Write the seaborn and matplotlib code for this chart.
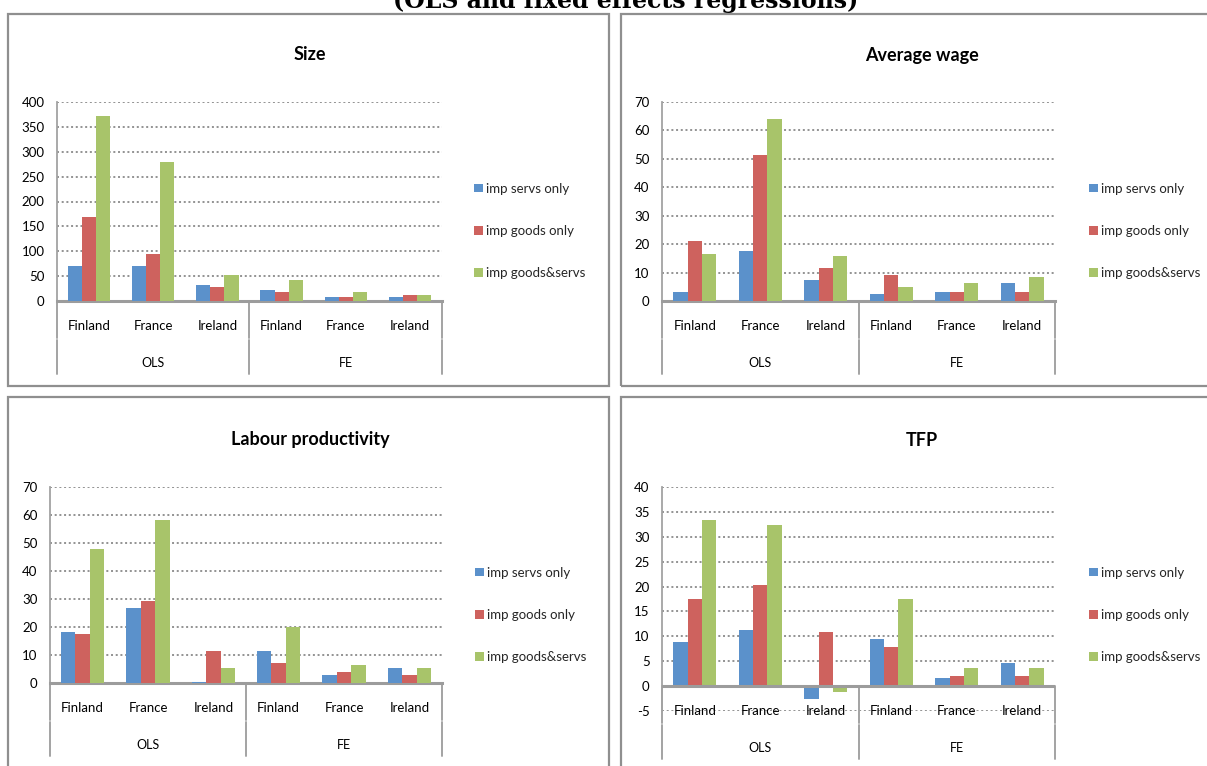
import matplotlib
matplotlib.use("Agg")
import matplotlib.pyplot as plt
import seaborn as sns
import pandas as pd
from matplotlib.patches import Rectangle
from matplotlib.lines import Line2D

sns.set_theme(style="white")
plt.rcParams['font.family'] = ['Lato', 'DejaVu Sans']

# ---- data -------------------------------------------------------------
methods = ["OLS", "FE"]
countries = ["Finland", "France", "Ireland"]
series = ["imp servs only", "imp goods only", "imp goods&servs"]

size_servs = [71, 71, 32, 23, 9, 9]
size_goods = [168, 95, 28, 18, 9, 13]
size_both = [371, 279, 52, 42, 18, 13]

wage_servs = [3.2, 17.7, 7.4, 2.4, 3.2, 6.5]
wage_goods = [21.0, 51.4, 11.7, 9.1, 3.2, 3.2]
wage_both = [16.6, 64.1, 15.8, 5.0, 6.5, 8.3]

lp_servs = [18.3, 26.7, 0.5, 11.5, 3.0, 5.5]
lp_goods = [17.4, 29.4, 11.5, 7.2, 3.9, 3.0]
lp_both = [48.0, 58.2, 5.5, 20.0, 6.4, 5.5]

tfp_servs = [8.8, 11.3, -2.6, 9.4, 1.7, 4.6]
tfp_goods = [17.5, 20.4, 10.8, 7.9, 2.1, 2.1]
tfp_both = [33.3, 32.4, -1.2, 17.5, 3.6, 3.6]

colors = ["#5B91CB", "#CE625E", "#A8C46A"]

# ---- figure -----------------------------------------------------------
W, H = 1207, 766
fig = plt.figure(figsize=(W / 100, H / 100), dpi=100)
fig.patch.set_facecolor("white")

slots = [f"{m} {c}" for m in methods for c in countries]


def long_frame(vals):
    rows = []
    for s, v in zip(series, vals):
        for slot, y in zip(slots, v):
            rows.append({"slot": slot, "series": s, "value": y})
    return pd.DataFrame(rows)


def fx(px):
    return px / W


def fy(py):
    return 1 - py / H


panels = [
    dict(title="Size", vals=(size_servs, size_goods, size_both),
         ylim=(0, 400), step=50, box=(57, 102, 442, 301),
         frame=(8, 14, 609, 386), title_xy=(310, 55),
         leg=(474, 231)),
    dict(title="Average wage", vals=(wage_servs, wage_goods, wage_both),
         ylim=(0, 70), step=10, box=(662, 102, 1055, 301),
         frame=(621, 14, 1230, 386), title_xy=(922, 55),
         leg=(1089, 231)),
    dict(title="Labour productivity", vals=(lp_servs, lp_goods, lp_both),
         ylim=(0, 70), step=10, box=(50, 487, 442, 683),
         frame=(8, 397, 609, 790), title_xy=(310, 440),
         leg=(475, 615)),
    dict(title="TFP", vals=(tfp_servs, tfp_goods, tfp_both),
         ylim=(-5, 40), step=5, box=(662, 487, 1055, 711),
         frame=(621, 397, 1230, 790), title_xy=(922, 440),
         leg=(1089, 615)),
]

frame_col = "#8f8f8f"
axis_col = "#a3a3a3"
grid_col = "#8a8a8a"
txt_size = 9.5

for p in panels:
    x0, y0, x1, y1 = p["frame"]
    fig.add_artist(Rectangle((fx(x0), fy(y1)), (x1 - x0) / W, (y1 - y0) / H,
                             transform=fig.transFigure, fill=False,
                             ec=frame_col, lw=1.6))

    l, t, r, b = p["box"]
    ax = fig.add_axes([fx(l), fy(b), (r - l) / W, (b - t) / H])
    ax_h = b - t

    df = long_frame(p["vals"])
    sns.barplot(data=df, x="slot", y="value", hue="series", order=slots,
                hue_order=series, palette=colors, saturation=1, width=0.66,
                errorbar=None, ax=ax, legend=True, linewidth=0, zorder=3)

    ymin, ymax = p["ylim"]
    ax.set_ylim(ymin, ymax)
    ax.set_xlim(-0.5, 5.5)
    ticks = list(range(ymin, ymax + 1, p["step"]))
    ax.set_yticks(ticks)
    ax.set_yticklabels([str(v) for v in ticks])
    ax.set_xticks(range(6))
    ax.set_xticklabels([""] * 6)
    ax.set_xlabel("")
    ax.set_ylabel("")
    ax.tick_params(axis="both", length=0)
    ax.tick_params(axis="y", pad=9, labelsize=txt_size, labelcolor="black")

    ax.grid(axis="y", color=grid_col, linestyle=(0, (1.1, 1.5)), lw=1.3,
            zorder=0)
    ax.grid(axis="x", visible=False)
    for side in ("top", "right"):
        ax.spines[side].set_visible(False)
    ax.spines["left"].set_color(axis_col)
    ax.spines["left"].set_linewidth(1.3)
    if ymin < 0:
        ax.spines["bottom"].set_visible(False)
        ax.axhline(0, color="#9c9c9c", lw=2.2, zorder=4)
    else:
        ax.spines["bottom"].set_color("#9c9c9c")
        ax.spines["bottom"].set_linewidth(2.2)

    # multi-level category axis
    zero = (0 - ymin) / (ymax - ymin)
    tr = ax.get_xaxis_transform()
    for i, slot in enumerate(slots):
        ax.text(i, zero - 25 / ax_h, countries[i % 3], transform=tr,
                ha="center", va="center", fontsize=txt_size, color="black",
                clip_on=False)
    for j, m in enumerate(methods):
        ax.text(3 * j + 1, zero - 62 / ax_h, m, transform=tr,
                ha="center", va="center", fontsize=txt_size - 0.5,
                color="black", clip_on=False)
    for xb in (-0.5, 2.5, 5.5):
        for a, bb in ((0, 37), (39, 73)):
            ax.add_line(Line2D([xb, xb], [zero - a / ax_h, zero - bb / ax_h],
                               transform=tr, color=axis_col, lw=1.4,
                               clip_on=False))

    # legend
    handles, labels = ax.get_legend_handles_labels()
    ax.legend(handles, labels, loc="center left",
              bbox_to_anchor=(fx(p["leg"][0]), fy(p["leg"][1])),
              bbox_transform=fig.transFigure, frameon=False, borderpad=0,
              borderaxespad=0, handlelength=0.65, handleheight=0.65,
              handletextpad=0.25, labelspacing=2.3, fontsize=txt_size)

    fig.text(fx(p["title_xy"][0]), fy(p["title_xy"][1]), p["title"],
             ha="center", va="center", fontsize=13, fontweight="bold",
             color="black")

fig.text(fx(626), fy(8), "(OLS and fixed effects regressions)",
         ha="center", va="baseline", fontsize=17, fontweight="bold",
         family=["DejaVu Serif"], color="black")

fig.savefig("out.png", dpi=100)
